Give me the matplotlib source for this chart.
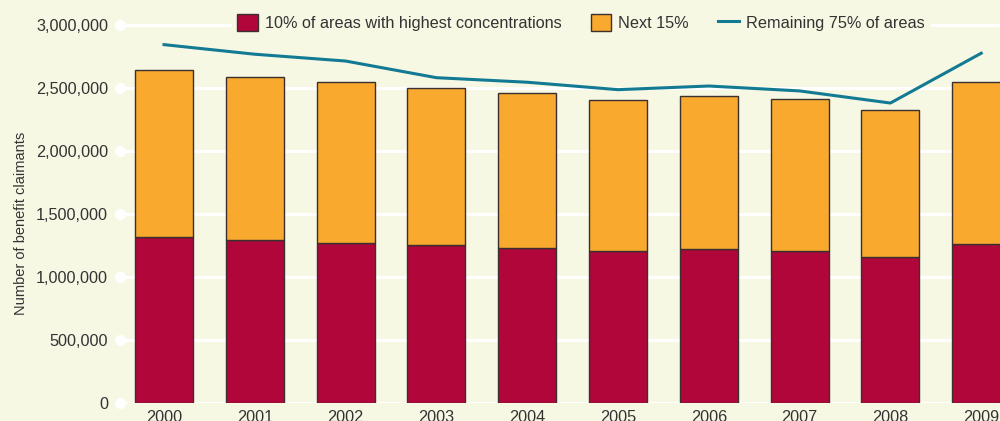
import matplotlib
matplotlib.use("Agg")
import matplotlib.pyplot as plt
from matplotlib.patches import Patch
from matplotlib.lines import Line2D
import numpy as np

years = ["2000", "2001", "2002", "2003", "2004", "2005", "2006", "2007", "2008", "2009"]
top10 = [1321000, 1293000, 1274000, 1255000, 1234000, 1208000, 1224000, 1210000, 1163000, 1261000]
next15 = [1322000, 1292000, 1274000, 1243000, 1227000, 1200000, 1215000, 1206000, 1161000, 1287000]
remaining75 = [2844000, 2768000, 2714000, 2582000, 2546000, 2487000, 2516000, 2477000, 2381000, 2776000]
yticks = [0, 500000, 1000000, 1500000, 2000000, 2500000, 3000000]

BG = "#f7f8e4"
RED = "#b0063a"
ORANGE = "#f9a92d"
TEAL = "#137a93"
TXT = "#333333"

plt.rcParams['font.family'] = ['Liberation Sans', 'DejaVu Sans']

fig = plt.figure(figsize=(10, 4.21), dpi=100, facecolor=BG)
ax = fig.add_axes([0.12, 0.042, 0.88, 0.958])
ax.set_facecolor(BG)

x = np.arange(len(years))
ax.bar(x, top10, width=0.64, color=RED, edgecolor="#3a3030", linewidth=1, zorder=3)
ax.bar(x, next15, bottom=top10, width=0.64, color=ORANGE, edgecolor="#3a3030", linewidth=1, zorder=3)
ax.plot(x, remaining75, color=TEAL, linewidth=2.2, zorder=4)

ax.set_xlim(-0.485, 9.207)
ax.set_ylim(0, 3198000)
ax.set_yticks(yticks)
ax.set_yticklabels([f"{v:,}" for v in yticks])
ax.set_xticks(x)
ax.set_xticklabels(years)
ax.tick_params(axis='both', length=0, labelsize=11.7, colors=TXT)
ax.tick_params(axis='y', pad=8.6)
ax.tick_params(axis='x', pad=5)
for s in ax.spines.values():
    s.set_visible(False)
ax.yaxis.grid(True, color="white", linewidth=2.2, zorder=0)
ax.set_axisbelow(True)
ax.plot([-0.485] * len(yticks), yticks, 'o', color="white", markersize=7,
        clip_on=False, zorder=5)

ax.set_ylabel("Number of benefit claimants", fontsize=10.5, color=TXT)
ax.yaxis.set_label_coords(-0.1045, 0.445)

handles = [
    Patch(facecolor=RED, edgecolor="#3a3030", linewidth=1),
    Patch(facecolor=ORANGE, edgecolor="#3a3030", linewidth=1),
    Line2D([0], [0], color=TEAL, linewidth=2.2),
]
labels = ["10% of areas with highest concentrations", "Next 15%", "Remaining 75% of areas"]
leg = fig.legend(handles, labels, loc="center", bbox_to_anchor=(0.581, 0.946), ncol=3,
                 frameon=True, facecolor=BG, edgecolor=BG, fontsize=11.7,
                 handlelength=1.25, handleheight=1.25, handletextpad=0.45,
                 columnspacing=1.8, borderpad=0.3, labelcolor=TXT)
leg.get_frame().set_alpha(1)

fig.savefig("out.png", dpi=100, facecolor=BG)
